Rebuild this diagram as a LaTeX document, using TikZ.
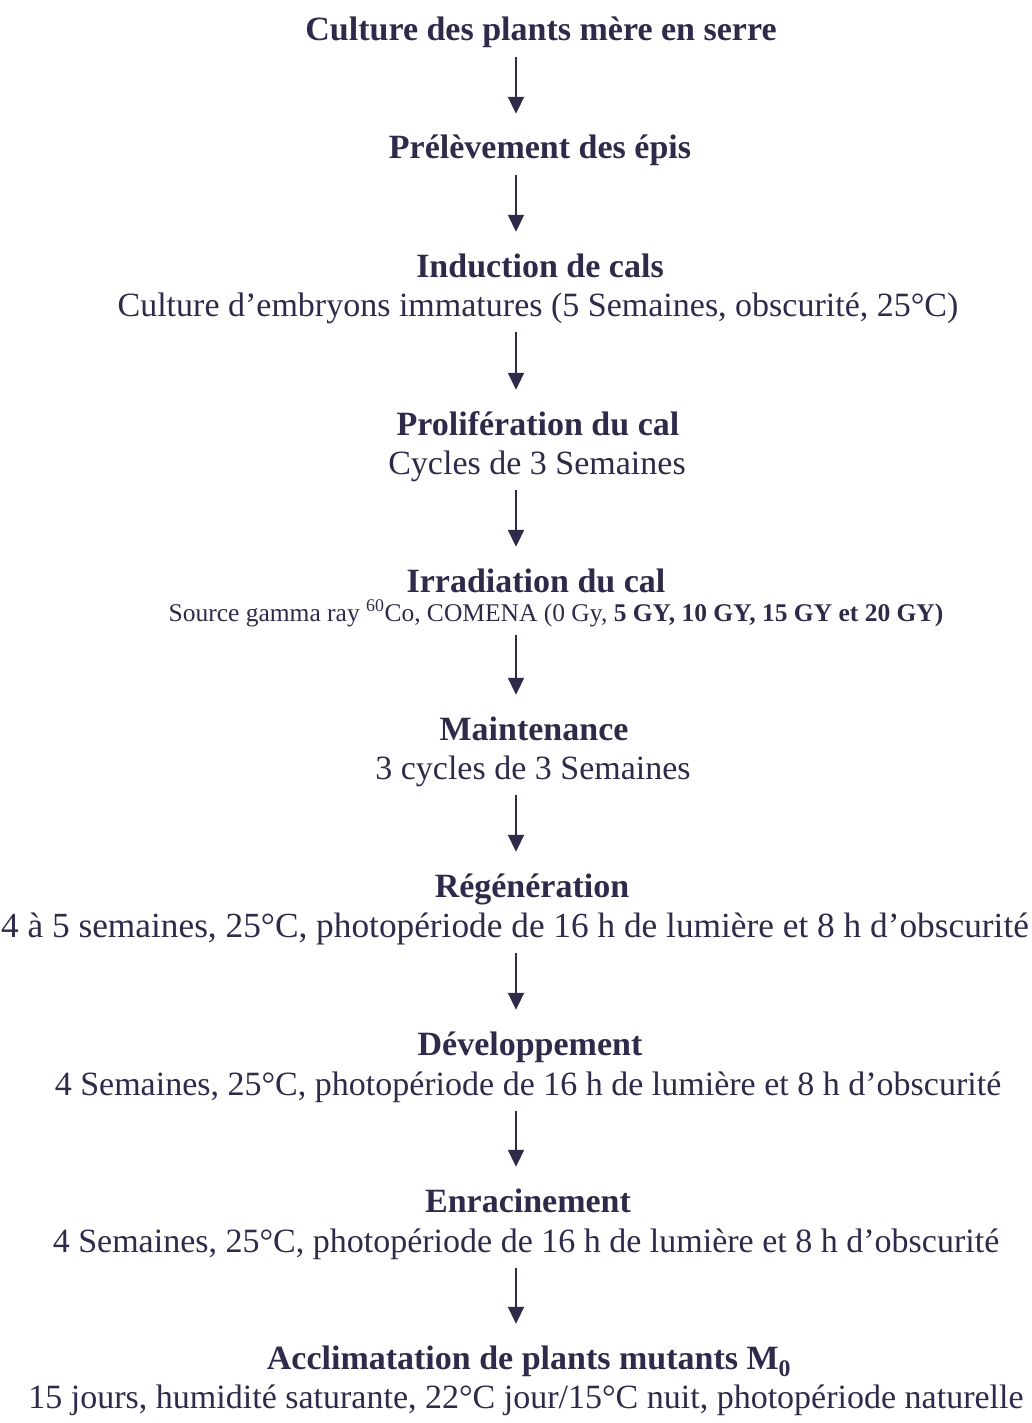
\documentclass[tikz,border=0pt]{standalone}
\usepackage{fontspec}
\setmainfont{Liberation Serif}
\usepackage{tikz}
\usepackage{xcolor}
\usetikzlibrary{arrows.meta, positioning}
\definecolor{scanink}{HTML}{2E2A4A}

\begin{document}
\begin{tikzpicture}[x=1pt, y=-1pt, color=scanink, text=scanink,
    stage/.style={font=\fontsize{34}{40}\selectfont\bfseries, anchor=base, inner sep=0pt, text height=24pt, text depth=8pt},
    detail/.style={font=\fontsize{34}{40}\selectfont, anchor=base, inner sep=0pt, text height=24pt, text depth=8pt},
    flow/.style={-{Triangle[width=16pt, length=17pt]}, line width=1.9pt, shorten <=8pt, shorten >=21pt}]
\useasboundingbox (0,0) rectangle (1031,1423);
\coordinate (ax) at (516,0);
% steps
\node[stage] (t1) at (541,41) {Culture des plants mère en serre};
\node[stage] (t2) at (540,159) {Prélèvement des épis};
\node[stage] (t3) at (540,277) {Induction de cals};
\node[detail] (d3) at (538,316) {Culture d’embryons immatures (5 Semaines, obscurité, 25°C)};
\node[stage] (t4) at (538,435) {Prolifération du cal};
\node[detail] (d4) at (537,474) {Cycles de 3 Semaines};
\node[stage] (t5) at (536,592) {Irradiation du cal};
\node[detail, font=\fontsize{25.5}{30}\selectfont, text height=18pt, text depth=6pt] (d5) at (556,621)
    {Source gamma ray \textsuperscript{60}Co, COMENA (0 Gy, \textbf{5 GY, 10 GY, 15 GY et 20 GY)}};
\node[stage] (t6) at (534,740) {Maintenance};
\node[detail] (d6) at (533,779) {3 cycles de 3 Semaines};
\node[stage] (t7) at (532,897) {Régénération};
\node[detail, font=\fontsize{35.3}{40}\selectfont] (d7) at (515,937)
    {4 à 5 semaines, 25°C, photopériode de 16 h de lumière et 8 h d’obscurité};
\node[stage] (t8) at (530,1055) {Développement};
\node[detail] (d8) at (528,1095) {4 Semaines, 25°C, photopériode de 16 h de lumière et 8 h d’obscurité};
\node[stage] (t9) at (528,1212) {Enracinement};
\node[detail] (d9) at (526,1252) {4 Semaines, 25°C, photopériode de 16 h de lumière et 8 h d’obscurité};
\node[stage] (t10) at (529,1369) {Acclimatation de plants mutants M\textsubscript{0}};
\node[detail] (d10) at (526,1408) {15 jours, humidité saturante, 22°C jour/15°C nuit, photopériode naturelle};
% arrows
\foreach \from/\to in {t1/t2, t2/t3, d3/t4, d4/t5, d5/t6, d6/t7, d7/t8, d8/t9, d9/t10}
    \draw[flow] (\from.south -| ax) -- (\to.north -| ax);
\end{tikzpicture}
\end{document}
